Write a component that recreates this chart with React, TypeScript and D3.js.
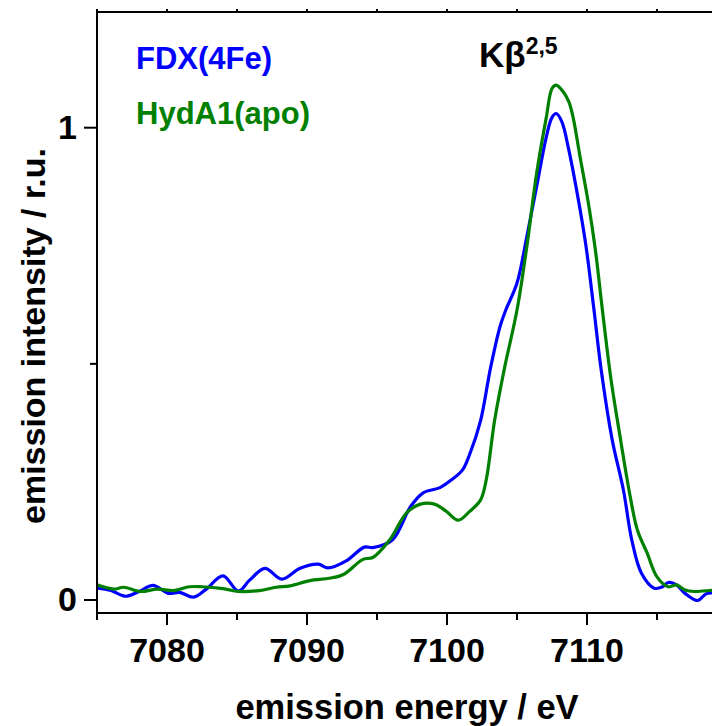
import React from "react";
import * as d3 from "d3";

// Kβ2,5 valence-to-core emission spectra (normalised)
const fdxEnergy = [
  7075.0, 7076.0, 7077.0, 7078.0, 7079.0, 7080.1, 7080.9, 7081.9, 7082.8, 7084.0,
  7085.1, 7085.9, 7087.0, 7088.2, 7089.5, 7090.8, 7091.5, 7092.8, 7094.1, 7094.7,
  7096.1, 7097.4, 7098.3, 7099.5, 7100.3, 7101.1, 7101.6, 7102.4, 7103.1, 7103.8,
  7104.2, 7105.0, 7105.7, 7106.4, 7107.1, 7107.5, 7107.8, 7108.2, 7108.7, 7109.3,
  7109.9, 7110.5, 7111.0, 7111.8, 7112.6, 7113.2, 7113.9, 7114.8, 7115.4, 7115.8,
  7116.4, 7117.0, 7117.9, 7118.5, 7119.1, 7119.8,
];
const fdxIntensity = [
  0.025, 0.02, 0.008, 0.018, 0.031, 0.014, 0.016, 0.006, 0.023, 0.051,
  0.019, 0.042, 0.067, 0.044, 0.067, 0.076, 0.068, 0.083, 0.112, 0.111,
  0.127, 0.198, 0.227, 0.238, 0.254, 0.275, 0.307, 0.38, 0.49, 0.58,
  0.614, 0.671, 0.769, 0.875, 0.981, 1.022, 1.03, 1.013, 0.953, 0.861,
  0.755, 0.614, 0.49, 0.339, 0.233, 0.127, 0.056, 0.025, 0.028, 0.037,
  0.032, 0.014, -0.001, 0.013, 0.016, 0.02,
];

const hydEnergy = [
  7075.0, 7076.2, 7076.9, 7078.1, 7079.3, 7080.5, 7081.6, 7082.5, 7084.0, 7085.1,
  7086.6, 7087.8, 7088.8, 7090.2, 7091.6, 7092.6, 7094.0, 7094.7, 7095.9, 7097.1,
  7098.1, 7099.1, 7099.9, 7100.8, 7101.6, 7102.4, 7102.8, 7103.4, 7104.1, 7105.0,
  7105.7, 7106.4, 7107.1, 7107.5, 7107.8, 7108.3, 7108.7, 7109.0, 7109.5, 7110.1,
  7110.6, 7111.1, 7111.7, 7112.4, 7113.0, 7113.6, 7114.3, 7115.0, 7115.8, 7116.4,
  7117.0, 7117.7, 7119.1, 7119.8,
];
const hydIntensity = [
  0.032, 0.023, 0.027, 0.018, 0.023, 0.02, 0.028, 0.028, 0.024, 0.018,
  0.02, 0.027, 0.03, 0.041, 0.046, 0.054, 0.086, 0.09, 0.127, 0.184,
  0.203, 0.203, 0.189, 0.169, 0.187, 0.212, 0.254, 0.38, 0.49, 0.614,
  0.748, 0.903, 1.023, 1.083, 1.09, 1.076, 1.055, 1.023, 0.939, 0.84,
  0.741, 0.614, 0.47, 0.339, 0.233, 0.148, 0.099, 0.049, 0.028, 0.032,
  0.021, 0.018, 0.021, 0.021,
];

const seriesNames = ["FDX(4Fe)", "HydA1(apo)"];
const seriesColors = ["#0000ff", "#008000"];

const xMajorTicks = [7080, 7090, 7100, 7110];
const xMinorTicks = [7075, 7085, 7095, 7105, 7115];
const yMajorTicks = [0, 1];
const yMinorTicks = [0.5];

const W = 712;
const H = 726;
const left = 97;
const top = 12;
const bottom = 613;
const right = 727;

const FONT = "'Liberation Sans', Arial, Helvetica, sans-serif";

export default function App() {
  const x = d3.scaleLinear().domain([7075, 7120]).range([left, right]);
  const y = d3.scaleLinear().domain([0, 1]).range([600, 127.7]);

  const line = d3
    .line<[number, number]>()
    .x((d) => x(d[0]))
    .y((d) => y(d[1]))
    .curve(d3.curveCatmullRom.alpha(0.5));

  const fdx = fdxEnergy.map((e, i) => [e, fdxIntensity[i]] as [number, number]);
  const hyd = hydEnergy.map((e, i) => [e, hydIntensity[i]] as [number, number]);

  return (
    <svg
      width={W}
      height={H}
      style={{ position: "absolute", left: 0, top: 0, background: "#fff" }}
      fontFamily={FONT}
      fontWeight="bold"
    >
      <defs>
        <clipPath id="plot-area">
          <rect x={left} y={top} width={right - left} height={bottom - top} />
        </clipPath>
      </defs>

      <g clipPath="url(#plot-area)">
        <path d={line(fdx) ?? ""} fill="none" stroke={seriesColors[0]} strokeWidth={3.2} strokeLinejoin="round" />
        <path d={line(hyd) ?? ""} fill="none" stroke={seriesColors[1]} strokeWidth={3.2} strokeLinejoin="round" />
      </g>

      {/* frame */}
      <g stroke="#000" strokeWidth={2} fill="none">
        <line x1={left} y1={top} x2={left} y2={bottom} />
        <line x1={left - 1} y1={bottom} x2={W} y2={bottom} />
        <line x1={left - 1} y1={top} x2={W} y2={top} />
      </g>

      {/* ticks */}
      <g stroke="#000" strokeWidth={2}>
        {xMajorTicks.map((t) => (
          <line key={"xM" + t} x1={x(t)} x2={x(t)} y1={bottom} y2={bottom + 12} />
        ))}
        {xMinorTicks.map((t) => (
          <line key={"xm" + t} x1={x(t)} x2={x(t)} y1={bottom} y2={bottom + 7} />
        ))}
        {[...xMajorTicks, ...xMinorTicks].map((t) => (
          <line key={"xt" + t} x1={x(t)} x2={x(t)} y1={top} y2={top - 3} />
        ))}
        {yMajorTicks.map((t) => (
          <line key={"yM" + t} x1={left} x2={left - 13} y1={y(t)} y2={y(t)} />
        ))}
        {yMinorTicks.map((t) => (
          <line key={"ym" + t} x1={left} x2={left - 7} y1={y(t)} y2={y(t)} />
        ))}
      </g>

      {/* tick labels */}
      <g fontSize={34} fill="#000">
        {xMajorTicks.map((t) => (
          <text key={"xl" + t} x={x(t)} y={662} textAnchor="middle">
            {t}
          </text>
        ))}
        {yMajorTicks.map((t) => (
          <text key={"yl" + t} x={77} y={y(t) + 11} textAnchor="end">
            {t}
          </text>
        ))}
      </g>

      {/* axis titles */}
      <text x={407} y={719} fontSize={34.5} textAnchor="middle" fill="#000">
        emission energy / eV
      </text>
      <text
        transform={`translate(45, 336) rotate(-90)`}
        fontSize={34}
        textAnchor="middle"
        fill="#000"
      >
        emission intensity / r.u.
      </text>

      {/* legend */}
      <text x={136} y={69} fontSize={31} fill={seriesColors[0]}>
        {seriesNames[0]}
      </text>
      <text x={136} y={124} fontSize={31} fill={seriesColors[1]}>
        {seriesNames[1]}
      </text>

      {/* peak label */}
      <text x={479} y={67} fontSize={35} fill="#000">
        Kβ
        <tspan fontSize={23} dy={-13}>
          2,5
        </tspan>
      </text>
    </svg>
  );
}
